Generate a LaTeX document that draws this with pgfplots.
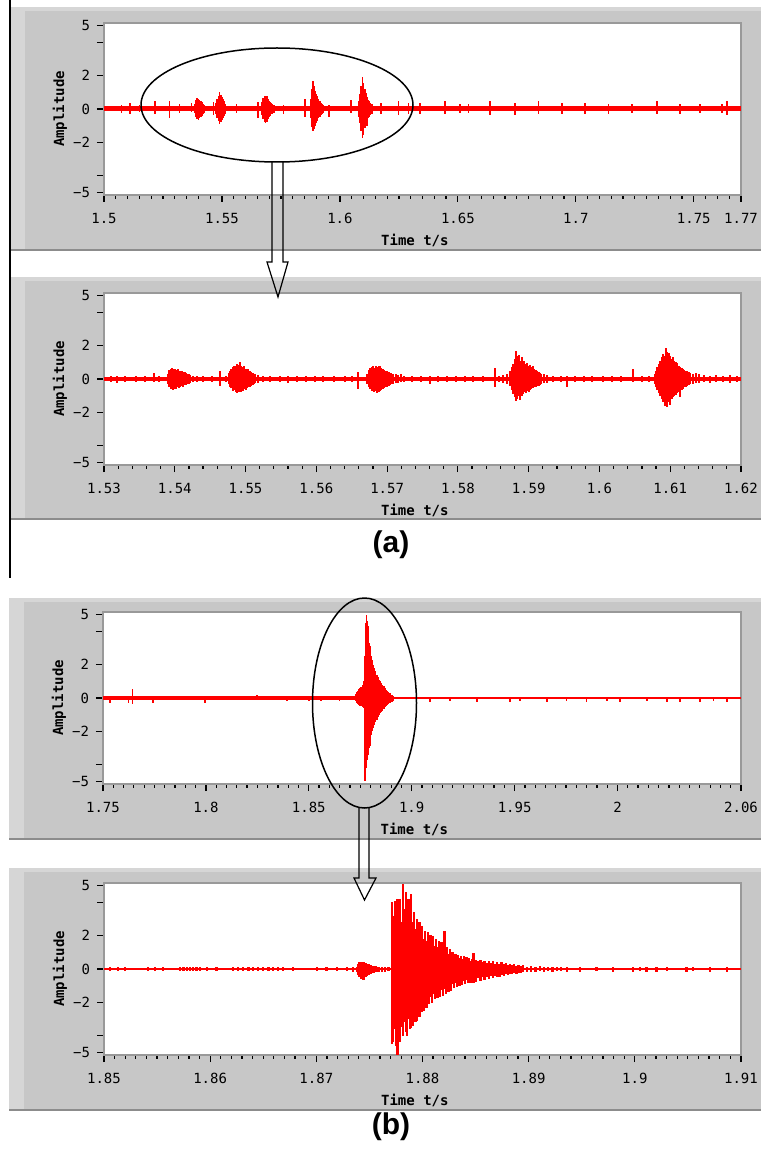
\documentclass[border=0pt]{standalone}
\usepackage{pgfplots}
\pgfplotsset{compat=1.18}
\usepackage{pgfplotstable}
\usepackage{fontspec}
\setmainfont{Liberation Sans}
\newfontfamily\lvfont{DejaVu Sans Mono}
\definecolor{lvgray}{RGB}{199,199,199}
\definecolor{lvlight}{RGB}{214,214,214}
\definecolor{lvdark}{RGB}{140,140,140}
\definecolor{lvred}{RGB}{255,0,0}

% ---------- panel (a) top: 1.5 - 1.77 s ----------
\pgfplotstableread[row sep=\\]{
t up dn\\
1.5075 0.25 -0.25\\ 1.5110 0.35 -0.30\\ 1.5150 0.25 -0.20\\ 1.5216 0.50 -0.30\\ 1.5277 0.45 -0.55\\ 1.5320 0.30 -0.25\\ 1.5371 0.35 -0.20\\
1.5385 0.30 -0.25\\ 1.5390 0.55 -0.50\\ 1.5395 0.66 -0.62\\ 1.5400 0.60 -0.66\\ 1.5405 0.55 -0.55\\ 1.5410 0.48 -0.48\\ 1.5415 0.40 -0.40\\ 1.5420 0.32 -0.30\\ 1.5425 0.25 -0.25\\
1.5464 0.40 -0.35\\
1.5475 0.35 -0.30\\ 1.5480 0.60 -0.55\\ 1.5485 0.80 -0.70\\ 1.5490 1.00 -0.87\\ 1.5495 0.85 -0.80\\ 1.5500 0.70 -0.65\\ 1.5505 0.60 -0.55\\ 1.5510 0.45 -0.42\\ 1.5515 0.32 -0.30\\
1.5562 0.30 -0.25\\ 1.5652 0.40 -0.55\\
1.5670 0.40 -0.35\\ 1.5675 0.65 -0.60\\ 1.5680 0.75 -0.75\\ 1.5685 0.80 -0.85\\ 1.5690 0.75 -0.75\\ 1.5695 0.60 -0.60\\ 1.5700 0.50 -0.50\\ 1.5705 0.42 -0.40\\ 1.5710 0.35 -0.32\\ 1.5715 0.30 -0.28\\ 1.5720 0.25 -0.25\\
1.5761 0.25 -0.30\\ 1.5852 0.60 -0.45\\
1.5875 0.60 -0.55\\ 1.5880 1.20 -1.10\\ 1.5885 1.70 -1.34\\ 1.5890 1.35 -1.20\\ 1.5895 1.10 -1.00\\ 1.5900 0.90 -0.85\\ 1.5905 0.80 -0.70\\ 1.5910 0.60 -0.55\\ 1.5915 0.45 -0.45\\ 1.5920 0.35 -0.35\\ 1.5925 0.30 -0.28\\ 1.5930 0.25 -0.25\\
1.5954 0.25 -0.50\\ 1.6048 0.55 -0.25\\
1.6080 0.50 -0.45\\ 1.6085 0.90 -0.85\\ 1.6090 1.40 -1.30\\ 1.6095 1.90 -1.75\\ 1.6100 1.55 -1.55\\ 1.6105 1.20 -1.15\\ 1.6110 0.95 -0.90\\ 1.6115 0.70 -1.00\\ 1.6120 0.55 -0.55\\ 1.6125 0.45 -0.45\\ 1.6130 0.35 -0.35\\ 1.6135 0.30 -0.30\\
1.6175 0.35 -0.30\\ 1.6248 0.45 -0.35\\ 1.6290 0.35 -0.30\\ 1.6340 0.35 -0.30\\ 1.6446 0.45 -0.30\\ 1.6509 0.30 -0.25\\ 1.6545 0.30 -0.25\\ 1.6636 0.45 -0.35\\ 1.6742 0.35 -0.35\\ 1.6841 0.45 -0.30\\
1.6940 0.35 -0.30\\ 1.7039 0.35 -0.30\\ 1.7138 0.30 -0.30\\ 1.7237 0.30 -0.25\\ 1.7343 0.45 -0.30\\ 1.7442 0.30 -0.30\\ 1.7527 0.30 -0.25\\ 1.7619 0.30 -0.25\\ 1.7640 0.45 -0.35\\
}\dA

% ---------- panel (a) bottom: 1.53 - 1.62 s ----------
\pgfplotstableread[row sep=\\]{
t up dn\\
1.5310 0.20 -0.20\\ 1.5318 0.15 -0.25\\ 1.5330 0.20 -0.15\\ 1.5345 0.20 -0.20\\ 1.5358 0.15 -0.20\\ 1.5371 0.35 -0.20\\ 1.5378 0.20 -0.15\\
1.5390 0.30 -0.30\\ 1.5392 0.55 -0.50\\ 1.5394 0.60 -0.62\\ 1.5396 0.66 -0.55\\ 1.5398 0.58 -0.66\\ 1.5400 0.62 -0.60\\ 1.5402 0.55 -0.58\\ 1.5404 0.60 -0.50\\ 1.5406 0.50 -0.55\\ 1.5408 0.45 -0.48\\
1.5410 0.50 -0.40\\ 1.5412 0.40 -0.45\\ 1.5414 0.42 -0.38\\ 1.5416 0.35 -0.35\\ 1.5418 0.30 -0.32\\ 1.5420 0.32 -0.28\\ 1.5422 0.25 -0.25\\ 1.5426 0.20 -0.20\\
1.5432 0.15 -0.20\\ 1.5440 0.20 -0.15\\ 1.5452 0.20 -0.20\\ 1.5464 0.45 -0.40\\
1.5472 0.20 -0.20\\ 1.5476 0.35 -0.30\\ 1.5478 0.50 -0.45\\ 1.5480 0.60 -0.55\\ 1.5482 0.70 -0.70\\ 1.5484 0.75 -0.65\\ 1.5486 0.80 -0.75\\ 1.5488 0.90 -0.86\\ 1.5490 0.85 -0.80\\ 1.5492 1.00 -0.75\\
1.5494 0.80 -0.80\\ 1.5496 0.70 -0.70\\ 1.5498 0.75 -0.60\\ 1.5500 0.60 -0.65\\ 1.5502 0.55 -0.55\\ 1.5504 0.60 -0.50\\ 1.5506 0.45 -0.45\\ 1.5508 0.40 -0.42\\ 1.5510 0.35 -0.35\\ 1.5512 0.30 -0.30\\ 1.5514 0.28 -0.25\\ 1.5518 0.22 -0.22\\
1.5525 0.20 -0.15\\ 1.5535 0.15 -0.20\\ 1.5548 0.20 -0.20\\ 1.5560 0.15 -0.25\\ 1.5572 0.20 -0.15\\ 1.5585 0.18 -0.20\\ 1.5598 0.20 -0.18\\ 1.5610 0.15 -0.20\\ 1.5625 0.20 -0.15\\ 1.5640 0.18 -0.20\\ 1.5650 0.20 -0.18\\
1.5659 0.40 -0.60\\
1.5672 0.30 -0.30\\ 1.5674 0.55 -0.50\\ 1.5676 0.65 -0.60\\ 1.5678 0.70 -0.70\\ 1.5680 0.75 -0.65\\ 1.5682 0.65 -0.75\\ 1.5684 0.80 -0.70\\ 1.5686 0.70 -0.86\\ 1.5688 0.75 -0.75\\ 1.5690 0.80 -0.70\\
1.5692 0.65 -0.65\\ 1.5694 0.60 -0.60\\ 1.5696 0.55 -0.55\\ 1.5698 0.50 -0.50\\ 1.5700 0.45 -0.48\\ 1.5702 0.42 -0.40\\ 1.5704 0.38 -0.38\\ 1.5706 0.35 -0.32\\ 1.5708 0.30 -0.30\\ 1.5712 0.30 -0.25\\ 1.5716 0.25 -0.25\\ 1.5720 0.30 -0.20\\ 1.5724 0.20 -0.20\\
1.5735 0.15 -0.20\\ 1.5748 0.20 -0.15\\ 1.5761 0.20 -0.30\\ 1.5772 0.15 -0.20\\ 1.5785 0.20 -0.15\\ 1.5798 0.15 -0.20\\ 1.5810 0.15 -0.15\\ 1.5822 0.18 -0.18\\ 1.5835 0.15 -0.15\\
1.5852 0.65 -0.45\\ 1.5858 0.20 -0.20\\ 1.5864 0.25 -0.25\\ 1.5870 0.30 -0.30\\
1.5874 0.45 -0.40\\ 1.5876 0.70 -0.65\\ 1.5878 0.90 -0.90\\ 1.5880 1.20 -1.10\\ 1.5882 1.70 -1.34\\ 1.5884 1.40 -1.20\\ 1.5886 1.45 -1.00\\ 1.5888 1.10 -1.25\\ 1.5890 1.30 -1.00\\ 1.5892 1.00 -0.90\\
1.5894 1.10 -0.80\\ 1.5896 0.90 -0.85\\ 1.5898 0.95 -0.70\\ 1.5900 0.80 -0.75\\ 1.5902 0.85 -0.65\\ 1.5904 0.70 -0.60\\ 1.5906 0.75 -0.55\\ 1.5908 0.60 -0.50\\ 1.5910 0.55 -0.45\\ 1.5912 0.45 -0.42\\
1.5914 0.40 -0.40\\ 1.5916 0.35 -0.35\\ 1.5918 0.30 -0.30\\ 1.5922 0.30 -0.25\\ 1.5926 0.25 -0.25\\
1.5935 0.20 -0.20\\ 1.5945 0.15 -0.20\\ 1.5954 0.20 -0.50\\ 1.5965 0.18 -0.15\\ 1.5978 0.15 -0.18\\ 1.5990 0.18 -0.15\\ 1.6005 0.15 -0.20\\ 1.6018 0.20 -0.15\\ 1.6030 0.15 -0.18\\
1.6048 0.60 -0.20\\ 1.6060 0.18 -0.18\\ 1.6070 0.20 -0.20\\
1.6078 0.30 -0.30\\ 1.6080 0.50 -0.45\\ 1.6082 0.70 -0.65\\ 1.6084 0.90 -0.85\\ 1.6086 1.10 -1.00\\ 1.6088 1.30 -1.20\\ 1.6090 1.50 -1.40\\ 1.6092 1.40 -1.60\\ 1.6094 1.86 -1.50\\ 1.6096 1.60 -1.70\\
1.6098 1.55 -1.40\\ 1.6100 1.40 -1.55\\ 1.6102 1.20 -1.20\\ 1.6104 1.30 -1.10\\ 1.6106 1.10 -1.00\\ 1.6108 1.00 -0.95\\ 1.6110 0.95 -0.85\\ 1.6112 0.80 -0.80\\ 1.6114 0.70 -1.10\\ 1.6116 0.65 -0.65\\
1.6118 0.60 -0.60\\ 1.6120 0.55 -0.50\\ 1.6122 0.50 -0.45\\ 1.6124 0.45 -0.40\\ 1.6126 0.40 -0.35\\ 1.6128 0.35 -0.30\\ 1.6132 0.30 -0.28\\ 1.6136 0.35 -0.25\\ 1.6140 0.28 -0.25\\
1.6148 0.25 -0.20\\ 1.6156 0.20 -0.25\\ 1.6165 0.25 -0.20\\ 1.6175 0.20 -0.20\\ 1.6185 0.22 -0.25\\ 1.6195 0.20 -0.20\\
}\dB

% ---------- panel (b) top: 1.75 - 2.06 s ----------
\pgfplotstableread[row sep=\\]{
t up dn\\
1.7534 0.10 -0.30\\ 1.7623 0.10 -0.30\\ 1.7644 0.55 -0.35\\ 1.7744 0.10 -0.30\\ 1.7996 0.10 -0.30\\ 1.8247 0.20 -0.10\\ 1.8393 0.10 -0.20\\ 1.8500 0.10 -0.18\\ 1.8560 0.12 -0.15\\ 1.8650 0.10 -0.18\\
1.8730 0.25 -0.20\\ 1.8735 0.35 -0.30\\ 1.8740 0.40 -0.35\\ 1.8745 0.55 -0.40\\ 1.8750 0.60 -0.45\\ 1.8755 0.65 -0.50\\ 1.8760 0.80 -0.55\\ 1.8765 1.00 -0.60\\
1.8770 1.50 -2.50\\ 1.8773 2.50 -4.96\\ 1.8776 3.50 -4.50\\ 1.8779 4.50 -4.20\\ 1.8781 5.00 -4.00\\ 1.8784 4.60 -3.70\\ 1.8787 4.30 -3.40\\ 1.8790 3.80 -3.20\\ 1.8794 3.30 -3.00\\ 1.8797 3.10 -2.90\\
1.8800 2.80 -2.60\\ 1.8805 2.50 -2.20\\ 1.8810 2.30 -2.00\\ 1.8815 2.00 -1.80\\ 1.8820 1.80 -1.60\\ 1.8825 1.60 -1.45\\ 1.8830 1.40 -1.30\\ 1.8835 1.25 -1.15\\ 1.8840 1.10 -1.00\\ 1.8846 1.00 -0.90\\
1.8852 0.90 -0.85\\ 1.8858 0.80 -0.75\\ 1.8864 0.70 -0.65\\ 1.8870 0.60 -0.55\\ 1.8876 0.50 -0.50\\ 1.8882 0.40 -0.40\\ 1.8888 0.35 -0.35\\ 1.8895 0.30 -0.30\\ 1.8903 0.20 -0.22\\ 1.8911 0.15 -0.18\\
1.9089 0.08 -0.22\\ 1.9186 0.08 -0.20\\ 1.9316 0.08 -0.25\\ 1.9478 0.08 -0.22\\ 1.9526 0.08 -0.20\\ 1.9656 0.08 -0.25\\ 1.9753 0.08 -0.20\\ 1.9850 0.08 -0.22\\ 1.9948 0.08 -0.20\\ 2.0012 0.08 -0.22\\
2.0142 0.08 -0.20\\ 2.0239 0.08 -0.22\\ 2.0304 0.08 -0.25\\ 2.0401 0.08 -0.22\\ 2.0466 0.08 -0.20\\ 2.0531 0.08 -0.22\\
}\dC

% ---------- panel (b) bottom: 1.85 - 1.91 s ----------
\pgfplotstableread[row sep=\\]{
t up dn\\
1.85057 0.12 -0.10\\ 1.85135 0.10 -0.12\\ 1.85198 0.12 -0.10\\ 1.85417 0.10 -0.14\\ 1.85480 0.12 -0.10\\ 1.85559 0.10 -0.12\\ 1.85716 0.14 -0.14\\ 1.85750 0.12 -0.12\\ 1.85779 0.14 -0.14\\ 1.85810 0.12 -0.12\\
1.85841 0.14 -0.14\\ 1.85870 0.12 -0.12\\ 1.85904 0.14 -0.14\\ 1.85967 0.12 -0.12\\ 1.86061 0.12 -0.14\\ 1.86218 0.12 -0.12\\ 1.86260 0.10 -0.12\\ 1.86312 0.12 -0.12\\ 1.86360 0.10 -0.12\\ 1.86406 0.12 -0.12\\
1.86450 0.10 -0.12\\ 1.86500 0.12 -0.12\\ 1.86550 0.10 -0.12\\ 1.86595 0.12 -0.12\\ 1.86640 0.10 -0.12\\ 1.86689 0.12 -0.14\\ 1.86783 0.10 -0.12\\ 1.87003 0.10 -0.12\\ 1.87097 0.12 -0.12\\ 1.87192 0.12 -0.14\\
1.87286 0.12 -0.12\\ 1.87348 0.14 -0.16\\
1.87380 0.15 -0.15\\ 1.87395 0.30 -0.35\\ 1.87407 0.40 -0.50\\ 1.87419 0.35 -0.60\\ 1.87431 0.44 -0.55\\ 1.87443 0.40 -0.66\\ 1.87455 0.38 -0.50\\ 1.87467 0.35 -0.45\\ 1.87479 0.30 -0.40\\ 1.87491 0.28 -0.35\\
1.87503 0.25 -0.30\\ 1.87515 0.22 -0.28\\ 1.87527 0.20 -0.25\\ 1.87539 0.20 -0.22\\ 1.87551 0.18 -0.20\\ 1.87563 0.16 -0.18\\ 1.87575 0.15 -0.16\\ 1.87590 0.14 -0.15\\
1.87620 0.15 -0.15\\ 1.87650 0.12 -0.18\\ 1.87680 0.15 -0.12\\
1.87712 4.00 -4.50\\ 1.87725 3.20 -4.40\\ 1.87738 4.10 -3.60\\ 1.87751 3.00 -4.60\\ 1.87764 4.20 -5.16\\ 1.87777 3.40 -4.20\\ 1.87790 4.20 -4.40\\ 1.87803 2.80 -3.50\\ 1.87816 5.10 -4.00\\ 1.87829 3.60 -3.20\\
1.87842 4.60 -3.80\\ 1.87855 3.20 -4.00\\ 1.87868 4.20 -3.00\\ 1.87881 3.00 -3.60\\ 1.87894 4.50 -3.56\\ 1.87907 2.80 -3.40\\ 1.87920 3.40 -2.60\\ 1.87933 2.40 -3.20\\ 1.87946 3.00 -3.10\\ 1.87959 2.20 -2.40\\
1.87972 2.80 -2.85\\ 1.87985 2.00 -2.20\\ 1.87998 2.60 -2.55\\ 1.88011 1.80 -2.50\\ 1.88024 2.25 -1.90\\ 1.88037 1.70 -2.35\\ 1.88050 2.20 -1.80\\ 1.88063 1.60 -2.10\\ 1.88076 2.05 -1.70\\ 1.88089 1.50 -2.05\\
1.88102 2.00 -1.50\\ 1.88115 1.40 -1.80\\ 1.88128 1.80 -1.40\\ 1.88141 1.30 -1.75\\ 1.88154 1.70 -1.30\\ 1.88167 1.20 -1.65\\ 1.88180 1.60 -1.25\\ 1.88193 1.45 -1.60\\ 1.88206 2.30 -1.20\\ 1.88219 1.10 -1.50\\
1.88232 1.30 -1.00\\ 1.88245 0.90 -1.40\\ 1.88258 1.20 -1.00\\ 1.88271 0.80 -1.30\\ 1.88284 1.00 -0.90\\ 1.88297 0.75 -1.15\\ 1.88310 0.90 -0.85\\ 1.88323 0.70 -1.06\\ 1.88336 0.85 -0.80\\ 1.88349 0.65 -1.00\\
1.88362 0.80 -0.75\\ 1.88375 0.60 -0.95\\ 1.88388 0.75 -0.70\\ 1.88401 0.55 -0.90\\ 1.88414 0.70 -0.65\\ 1.88427 0.50 -0.86\\ 1.88440 0.65 -0.60\\ 1.88453 0.50 -0.85\\ 1.88466 0.60 -0.55\\ 1.88479 0.95 -0.86\\
1.88492 0.50 -0.60\\ 1.88505 0.55 -0.80\\
1.88525 0.45 -0.55\\ 1.88545 0.55 -0.70\\ 1.88565 0.40 -0.50\\ 1.88585 0.50 -0.65\\ 1.88605 0.38 -0.45\\ 1.88625 0.48 -0.60\\ 1.88645 0.35 -0.42\\ 1.88665 0.45 -0.55\\ 1.88685 0.32 -0.40\\ 1.88705 0.44 -0.50\\
1.88725 0.30 -0.46\\ 1.88745 0.40 -0.35\\ 1.88765 0.28 -0.42\\ 1.88785 0.35 -0.32\\ 1.88805 0.25 -0.38\\ 1.88825 0.32 -0.30\\ 1.88845 0.22 -0.32\\ 1.88865 0.30 -0.26\\ 1.88885 0.20 -0.30\\ 1.88905 0.26 -0.24\\
1.88925 0.18 -0.26\\ 1.88945 0.22 -0.20\\
1.88985 0.15 -0.20\\ 1.89025 0.18 -0.16\\ 1.89065 0.14 -0.18\\ 1.89105 0.16 -0.14\\ 1.89145 0.12 -0.16\\ 1.89185 0.14 -0.13\\ 1.89225 0.12 -0.15\\ 1.89265 0.13 -0.12\\ 1.89305 0.10 -0.14\\
1.89358 0.10 -0.15\\ 1.89483 0.10 -0.15\\ 1.89640 0.10 -0.14\\ 1.89797 0.10 -0.15\\ 1.89986 0.10 -0.15\\ 1.90048 0.10 -0.14\\ 1.90111 0.10 -0.15\\ 1.90205 0.10 -0.15\\ 1.90300 0.10 -0.14\\ 1.90488 0.10 -0.15\\
1.90551 0.10 -0.14\\ 1.90708 0.10 -0.15\\ 1.90865 0.10 -0.15\\
}\dD

\pgfplotsset{
  lv/.style={
    scale only axis, width=318.5pt, height=86pt,
    ymin=-5.15, ymax=5.15,
    ytick={-5,-4,-2,0,2,4,5}, yticklabels={−5,,−2,0,2,,5},
    tick pos=left, tick align=outside,
    major tick length=3.5pt, minor tick length=1.8pt,
    axis line style={draw=black!40, line width=0.6pt},
    every tick/.style={black, line width=0.6pt},
    every minor tick/.style={black, line width=0.6pt},
    ticklabel style={font=\lvfont\fontsize{7}{8}\selectfont, text=black},
    xticklabel style={anchor=center, yshift=-8pt},
    yticklabel style={anchor=east},
    xlabel={Time t/s}, ylabel={Amplitude},
    label style={font=\lvfont\bfseries\fontsize{7}{8}\selectfont},
    xlabel style={at={(axis description cs:0.488,0)}, anchor=center, yshift=-22.5pt},
    ylabel style={at={(axis description cs:0,0.5)}, anchor=center, rotate=0, yshift=22pt},
    axis background/.style={fill=white},
  },
  comb/.style={ycomb, draw=lvred, line width=0.65pt, mark=none},
}

\begin{document}
\begin{tikzpicture}
\begin{scope}[x=0.5pt, y=-0.5pt]
  \path[use as bounding box] (0,0) rectangle (761,1150);
  % frames
  \foreach \ya/\yb/\xa in {7/250/10, 277/519/10, 598/839/9, 868/1110/9}{
    \fill[lvgray] (\xa,\ya) rectangle (761,\yb);
    \fill[lvlight] (\xa,\ya) rectangle (\xa+15,\yb);
    \fill[lvlight] (\xa,\ya) rectangle (761,\ya+4);
    \draw[lvdark, line width=0.8pt] (\xa,\yb) -- (761,\yb);
  }
  \draw[black, line width=0.6pt] (10,0) -- (10,578);
  \coordinate (A1) at (104,195);
  \coordinate (A2) at (104,465);
  \coordinate (A3) at (103,784);
  \coordinate (A4) at (104,1055);
\end{scope}

\begin{axis}[lv, at={(A1)}, anchor=south west,
  xmin=1.5, xmax=1.77,
  xtick={1.5,1.55,1.6,1.65,1.7,1.75,1.77},
  xticklabels={1.5,1.55,1.6,1.65,1.7,1.75,1.77},
  minor xtick={1.505,1.51,...,1.77}]
  \addplot[draw=lvred, line width=2.5pt] coordinates {(1.5,0) (1.77,0)};
  \addplot[comb, line width=0.8pt] table[x=t, y=up] {\dA};
  \addplot[comb, line width=0.8pt] table[x=t, y=dn] {\dA};
\end{axis}

\begin{axis}[lv, at={(A2)}, anchor=south west,
  xmin=1.53, xmax=1.62,
  xtick={1.53,1.54,1.55,1.56,1.57,1.58,1.59,1.6,1.61,1.62},
  xticklabels={1.53,1.54,1.55,1.56,1.57,1.58,1.59,1.6,1.61,1.62},
  minor xtick={1.532,1.534,...,1.62}]
  \addplot[draw=lvred, line width=1.8pt] coordinates {(1.53,0) (1.62,0)};
  \addplot[comb, line width=1.0pt] table[x=t, y=up] {\dB};
  \addplot[comb, line width=1.0pt] table[x=t, y=dn] {\dB};
\end{axis}

\begin{axis}[lv, at={(A3)}, anchor=south west, width=319pt,
  xmin=1.75, xmax=2.06,
  xtick={1.75,1.8,1.85,1.9,1.95,2,2.06},
  xticklabels={1.75,1.8,1.85,1.9,1.95,2,2.06},
  minor xtick={1.755,1.76,...,2.06}]
  \addplot[draw=lvred, line width=2.4pt] coordinates {(1.75,0) (1.8885,0)};
  \addplot[draw=lvred, line width=1.1pt] coordinates {(1.8885,0) (2.06,0)};
  \addplot[comb, line width=0.8pt] table[x=t, y=up] {\dC};
  \addplot[comb, line width=0.8pt] table[x=t, y=dn] {\dC};
\end{axis}

\begin{axis}[lv, at={(A4)}, anchor=south west,
  xmin=1.85, xmax=1.91,
  xtick={1.85,1.86,1.87,1.88,1.89,1.9,1.91},
  xticklabels={1.85,1.86,1.87,1.88,1.89,1.9,1.91},
  minor xtick={1.851,1.852,...,1.91}]
  \addplot[draw=lvred, line width=0.9pt] coordinates {(1.85,0) (1.91,0)};
  \addplot[comb, line width=1.15pt] table[x=t, y=up] {\dD};
  \addplot[comb, line width=1.15pt] table[x=t, y=dn] {\dD};
\end{axis}

\begin{scope}[x=0.5pt, y=-0.5pt]
  % annotations
  \draw[black, line width=0.75pt] (277,105) ellipse [x radius=136, y radius=57];
  \draw[black, line width=0.6pt] (272,162) -- (272,262) -- (267,262) -- (278,297) -- (288,262) -- (283,262) -- (283,162);
  \draw[black, line width=0.75pt] (364.5,703) ellipse [x radius=52, y radius=105];
  \draw[black, line width=0.6pt] (359,808) -- (359,878) -- (354,878) -- (364.5,900) -- (376,878) -- (369,878) -- (369,808);
  \node[font=\bfseries\fontsize{15}{18}\selectfont] at (391,545) {(a)};
  \node[font=\bfseries\fontsize{15}{18}\selectfont] at (391,1127) {(b)};
\end{scope}
\end{tikzpicture}
\end{document}
